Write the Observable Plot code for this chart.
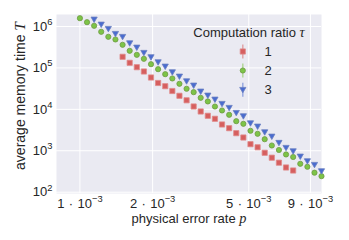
<!DOCTYPE html>
<html><head><meta charset="utf-8">
<script src="https://cdn.jsdelivr.net/npm/d3@7"></script>
<script src="https://cdn.jsdelivr.net/npm/@observablehq/plot@0.6"></script>
<style>body{margin:0;background:#fff} svg{display:block}</style>
</head><body><div id="chart"></div>
<script>
// physical error rates p
const pValues = [1.000e-3, 1.070e-3, 1.145e-3, 1.225e-3, 1.311e-3, 1.403e-3, 1.502e-3, 1.607e-3, 1.720e-3, 1.840e-3,
  1.969e-3, 2.107e-3, 2.255e-3, 2.413e-3, 2.582e-3, 2.764e-3, 2.957e-3, 3.162e-3, 3.384e-3, 3.622e-3,
  3.875e-3, 4.147e-3, 4.438e-3, 4.749e-3, 5.082e-3, 5.439e-3, 5.820e-3, 6.228e-3, 6.665e-3, 7.132e-3,
  7.633e-3, 8.168e-3, 8.741e-3, 9.354e-3, 1.000e-2];
// average memory time T for each computation ratio tau (null = no point)
const T_tau1 = [null, null, null, null, null, null, 1.856e5, 1.330e5, 1.041e5, 8.20e4,
  5.87e4, 4.33e4, 3.62e4, 2.77e4, 2.125e4, 1.654e4, 1.172e4, 8.88e3, 6.99e3, 5.92e3,
  4.31e3, 3.51e3, 2.66e3, 2.09e3, 1.443e3, 1.214e3, 894, 681, 516, 395,
  334, null, null, null, null];
const T_tau2 = [1.586e6, 1.270e6, 1.040e6, 7.45e5, 5.64e5, 4.86e5, 3.62e5, 2.59e5, 2.07e5, 1.66e5,
  1.23e5, 9.32e4, 7.06e4, 5.56e4, 4.14e4, 3.14e4, 2.60e4, 1.90e4, 1.55e4, 1.17e4,
  9.39e3, 7.39e3, 5.18e3, 4.48e3, 3.04e3, 2.57e3, 1.90e3, 1.34e3, 1.045e3, 814,
  708, 485, 411, 296, 244];
const T_tau3 = [null, null, 1.476e6, 1.117e6, 8.80e5, 6.66e5, 5.64e5, 3.95e5, 3.11e5, 2.32e5,
  1.82e5, 1.375e5, 1.083e5, 7.89e4, 6.21e4, 4.78e4, 3.77e4, 2.70e4, 2.16e4, 1.73e4,
  1.362e4, 1.091e4, 8.26e3, 6.84e3, 4.63e3, 3.86e3, 2.81e3, 2.21e3, 1.56e3, 1.181e3,
  977, 728, 561, 459, 322];
const taus = ["1", "2", "3"];
const xTicks = [1e-3, 2e-3, 5e-3, 9e-3];
const xTickLabels = ["1\u2004·\u200410^−3", "2\u2004·\u200410^−3", "5\u2004·\u200410^−3", "9\u2004·\u200410^−3"];
const yTicks = [1e2, 1e3, 1e4, 1e5, 1e6];
const yTickLabels = ["10^2", "10^3", "10^4", "10^5", "10^6"];

const colors = ["#D65F5F", "#7DC447", "#4A6CCF"];
const edges = ["#E08A8A", "#6E9A45", "#6A7FC0"];

const sq = {draw(c) { const h = 2.6; c.moveTo(-h, -h); c.lineTo(h, -h); c.lineTo(h, h); c.lineTo(-h, h); c.closePath(); }};
const circ = {draw(c) { c.moveTo(2.6, 0); c.arc(0, 0, 2.6, 0, 2 * Math.PI); c.closePath(); }};
const triDown = {draw(c) { c.moveTo(-3.1, -2.4); c.lineTo(3.1, -2.4); c.lineTo(0, 3.0); c.closePath(); }};
const vbar = {draw(c) { c.moveTo(0, -7); c.lineTo(0, 7); }};
const symbols = [sq, circ, triDown];
const series = [T_tau1, T_tau2, T_tau3];

const rows = series.map(T => pValues.map((p, i) => ({p, T: T[i]})).filter(d => d.T != null));

const legendDy = [37, 56, 75.3];
const legendMarks = [];
taus.forEach((t, k) => {
  legendMarks.push(Plot.dot([t], {frameAnchor: "top-left", dx: 186.3, dy: legendDy[k], symbol: vbar, fill: "none", stroke: colors[k], strokeOpacity: 0.5, strokeWidth: 1.5}));
  legendMarks.push(Plot.dot([t], {frameAnchor: "top-left", dx: 186.3, dy: legendDy[k], symbol: symbols[k], fill: colors[k], stroke: edges[k], strokeWidth: 0.8}));
  legendMarks.push(Plot.text([t], {frameAnchor: "top-left", dx: 208, dy: legendDy[k], text: d => d, textAnchor: "start", lineAnchor: "middle", fontSize: 13}));
});

const chart = Plot.plot({
  width: 349, height: 240,
  marginLeft: 56, marginRight: 28, marginTop: 14, marginBottom: 47,
  style: {fontFamily: "Liberation Sans, Arial, sans-serif", fontSize: "13px", color: "#262626", background: "#fff"},
  x: {type: "log", domain: [8e-4, 1e-2], axis: null},
  y: {type: "log", domain: [93, 1.948e6], axis: null},
  marks: [
    Plot.frame({fill: "#EAEAF2", stroke: "none"}),
    Plot.ruleX(xTicks, {stroke: "white", strokeWidth: 1}),
    Plot.ruleY(yTicks, {stroke: "white", strokeWidth: 1}),
    ...rows.map((r, k) => Plot.dot(r, {x: "p", y: "T", symbol: symbols[k], fill: colors[k], stroke: edges[k], strokeWidth: 0.8})),
    Plot.text(xTicks, {x: d => d, frameAnchor: "bottom", lineAnchor: "top", dy: 5, textAnchor: "middle", text: (d, i) => xTickLabels[i], fontSize: 13}),
    Plot.text(yTicks, {y: d => d, frameAnchor: "left", dx: -4, textAnchor: "end", lineAnchor: "middle", text: (d, i) => yTickLabels[i], fontSize: 13}),
    Plot.text(["average memory time T"], {frameAnchor: "left", dx: -35.5, dy: -8, rotate: -90, textAnchor: "middle", lineAnchor: "middle", text: d => d, fontSize: 14}),
    Plot.text(["physical error rate p"], {frameAnchor: "bottom", dy: 25.2, textAnchor: "middle", lineAnchor: "middle", text: d => d, fontSize: 13}),
    Plot.text(["Computation ratio τ"], {frameAnchor: "top-left", dx: 192.5, dy: 18, textAnchor: "middle", lineAnchor: "middle", text: d => d, fontSize: 13}),
    ...legendMarks
  ]
});
document.getElementById("chart").appendChild(chart);

const svg = d3.select(chart);
svg.selectAll("text").each(function() {
  const s = this.textContent;
  const k = s.indexOf("^");
  if (k >= 0 && this.children.length === 0) {
    const sel = d3.select(this);
    sel.text(null);
    sel.append("tspan").text(s.slice(0, k));
    sel.append("tspan").attr("dy", "-0.62em").attr("font-size", "0.72em").text(s.slice(k + 1));
  }
});
const italicLast = {"average memory time T": "T", "physical error rate p": "p", "Computation ratio τ": "τ"};
svg.selectAll("text").each(function() {
  const s = this.textContent;
  if (italicLast[s] && this.children.length === 0) {
    const sel = d3.select(this);
    sel.text(null);
    sel.append("tspan").text(s.slice(0, -1));
    sel.append("tspan").attr("font-family", "Liberation Serif, DejaVu Serif, serif").attr("font-style", "italic").attr("font-size", "1.1em").text(s.slice(-1));
  }
});
</script>
</body></html>
